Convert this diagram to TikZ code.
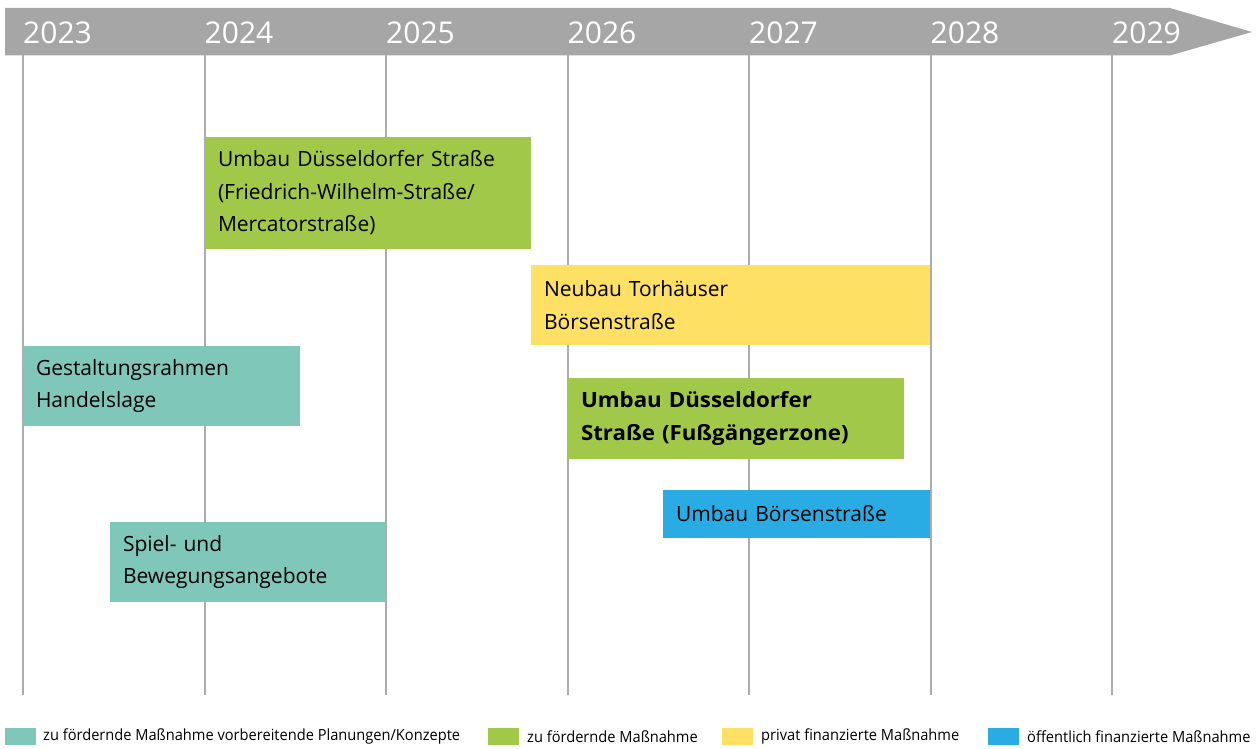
\documentclass[tikz,border=0pt]{standalone}
\usepackage{fontspec}
\setmainfont{Open Sans}
\newfontfamily\legendfont[FakeStretch=0.95]{Open Sans}
\newfontfamily\widebold[FakeStretch=1.06]{Open Sans Bold}
\usetikzlibrary{positioning}

\definecolor{bandgray}{RGB}{166,166,166}
\definecolor{linegray}{RGB}{172,172,172}
\definecolor{planteal}{RGB}{127,200,185}
\definecolor{plangreen}{RGB}{162,200,74}
\definecolor{planyellow}{RGB}{254,224,100}
\definecolor{planblue}{RGB}{41,172,227}

\begin{document}
\begin{tikzpicture}[x=1pt, y=-1pt,
    plan/.style={anchor=north west, inner xsep=13pt, inner ysep=0pt, outer sep=0pt,
        align=left, font=\fontsize{21}{32.5}\selectfont},
    legbox/.style={anchor=north west, inner sep=0pt, outer sep=0pt,
        minimum width=31pt, minimum height=17pt},
    legtext/.style={inner sep=0pt, font=\legendfont\fontsize{15.4}{16}\selectfont}]
    \useasboundingbox (0,0) rectangle (1258,749);

    % time band
    \fill[bandgray] (5,8) -- (1170,8) -- (1252,32) -- (1170,55.5) -- (5,55.5) -- cycle;
    \foreach \yr [count=\i from 0] in {2023,2024,2025,2026,2027,2028,2029} {
        \draw[linegray, line width=2pt] (23+181.5*\i,55.5) -- (23+181.5*\i,695);
        \node[anchor=base west, inner sep=0pt, text=white, font=\fontsize{30}{30}\selectfont]
            (y\yr) at (23+181.5*\i,44) {\yr};
    }

    % measures
    \node[plan, fill=plangreen, text width=300pt, minimum height=112pt] (duessel) at (205,137)
        {Umbau Düsseldorfer Straße\\(Friedrich-Wilhelm-Straße/\\Mercatorstraße)};
    \node[plan, fill=planyellow, text width=373pt, minimum height=80pt] (torhaus) at (531,265)
        {Neubau Torhäuser\\Börsenstraße};
    \node[plan, fill=planteal, text width=251pt, minimum height=80pt] (gestalt) at (23,346)
        {Gestaltungsrahmen\\Handelslage};
    \node[plan, fill=plangreen, text width=310pt, minimum height=81pt] (fussg) at (568,378)
        {\widebold Umbau Düsseldorfer\\\widebold Straße (Fußgängerzone)};
    \node[plan, fill=planblue, text width=241pt, minimum height=48pt] (boersen) at (663,490)
        {Umbau Börsenstraße};
    \node[plan, fill=planteal, text width=250pt, minimum height=80pt] (spiel) at (110,522)
        {Spiel- und\\Bewegungsangebote};

    % legend
    \node[legbox, fill=planteal] (lg1) at (5,728) {};
    \node[legtext, right=7pt of lg1] (lt1) {zu fördernde Maßnahme vorbereitende Planungen/Konzepte};
    \node[legbox, fill=plangreen] (lg2) at (488,728) {};
    \node[legtext, right=8pt of lg2] (lt2) {zu fördernde Maßnahme};
    \node[legbox, fill=planyellow] (lg3) at (722,728) {};
    \node[legtext, right=8pt of lg3] (lt3) {privat finanzierte Maßnahme};
    \node[legbox, fill=planblue] (lg4) at (988,728) {};
    \node[legtext, right=8pt of lg4] (lt4) {öffentlich finanzierte Maßnahme};
\end{tikzpicture}
\end{document}
